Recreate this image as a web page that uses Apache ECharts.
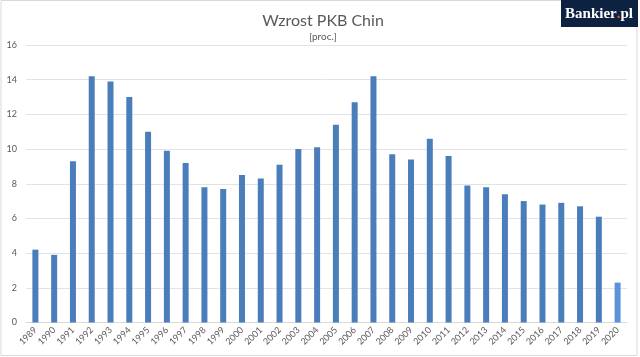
<!DOCTYPE html>
<html>
<head>
<meta charset="utf-8">
<script src="https://cdn.jsdelivr.net/npm/echarts@6/dist/echarts.min.js"></script>
<style>html,body{margin:0;padding:0;background:#fff}#c{width:640px;height:357px}</style>
</head>
<body>
<div id="c"></div>
<script>
const years = ['1989','1990','1991','1992','1993','1994','1995','1996','1997','1998','1999','2000','2001','2002','2003','2004','2005','2006','2007','2008','2009','2010','2011','2012','2013','2014','2015','2016','2017','2018','2019','2020'];
const growth = [4.2,3.9,9.3,14.2,13.9,13.0,11.0,9.9,9.2,7.8,7.7,8.5,8.3,9.1,10.0,10.1,11.4,12.7,14.2,9.7,9.4,10.6,9.6,7.9,7.8,7.4,7.0,6.8,6.9,6.7,6.1,2.3];
const yTicks = [0,2,4,6,8,10,12,14,16];

const font = 'Lato, "Open Sans", sans-serif';
const chart = echarts.init(document.getElementById('c'), null, {renderer:'canvas'});
chart.setOption({
  animation:false,
  backgroundColor:'#ffffff',
  title:[
    {text:'Wzrost PKB Chin', left:318, top:8, textAlign:'center',
     textStyle:{fontFamily:font, fontSize:16, fontWeight:'normal', color:'#595959'}},
    {text:'[proc.]', left:318, top:27, textAlign:'center',
     textStyle:{fontFamily:font, fontSize:10, fontWeight:'normal', color:'#595959'}}
  ],
  grid:{left:26, right:13, top:45, bottom:34.5, containLabel:false},
  xAxis:{
    type:'category', data:years,
    axisLine:{show:true, lineStyle:{color:'#d9d9d9'}},
    axisTick:{show:false},
    axisLabel:{interval:0, rotate:45, fontFamily:font, fontSize:9, color:'#595959', margin:6}
  },
  yAxis:{
    type:'value', min:yTicks[0], max:yTicks[yTicks.length-1], interval:2,
    axisLine:{show:false}, axisTick:{show:false},
    splitLine:{lineStyle:{color:'#e3e3e3'}},
    axisLabel:{fontFamily:font, fontSize:9, color:'#595959', margin:9}
  },
  series:[{
    type:'bar', barWidth:6,
    data:growth.map((v,i)=> i===growth.length-1 ? {value:v, itemStyle:{color:'#5b93d9'}} : v),
    itemStyle:{color:'#4a7ebb'}
  }],
  graphic:[
    {type:'rect', shape:{x:1, y:0.5, width:636, height:355}, style:{fill:'none', stroke:'#d9d9d9', lineWidth:1}, z:-1},
    {type:'rect', shape:{x:561, y:0, width:77, height:27}, style:{fill:'#0d2240'}, z:10},
    {type:'text', x:599, y:14, z:11, style:{
      text:'{a|Bankier}{b|.}{a|pl}', align:'center', verticalAlign:'middle',
      rich:{
        a:{fontFamily:'"Liberation Serif", serif', fontWeight:'bold', fontSize:15, fill:'#ffffff'},
        b:{fontFamily:'"Liberation Serif", serif', fontWeight:'bold', fontSize:15, fill:'#e8501e'}
      }
    }}
  ]
});
</script>
</body>
</html>
